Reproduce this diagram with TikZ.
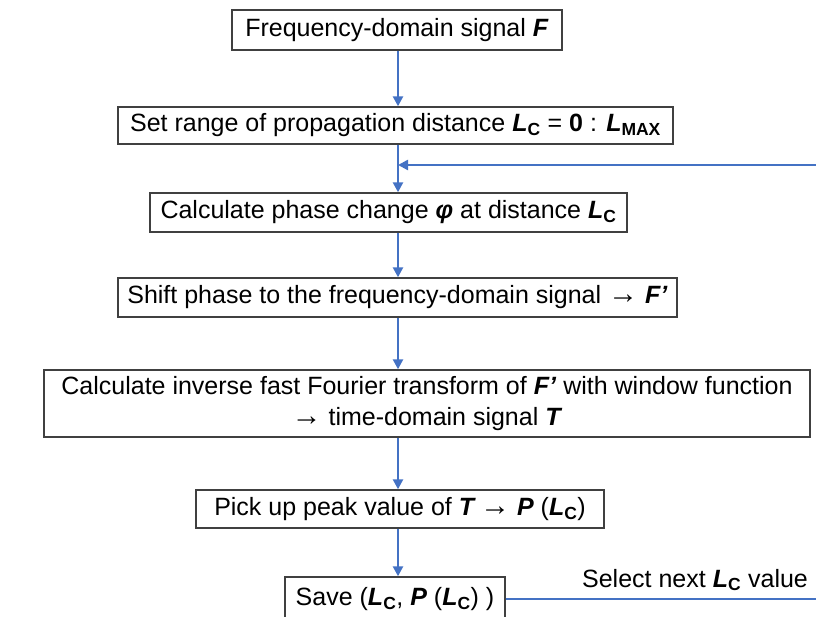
\documentclass[tikz,border=0pt]{standalone}
\usepackage{fontspec}
\setmainfont{Liberation Sans}
\usetikzlibrary{arrows.meta,calc}
\newcommand{\bi}[1]{\textbf{\textit{#1}}}
\newcommand{\sub}[1]{\textsubscript{\textbf{#1}}}
\newcommand{\Lc}{\bi{L}\sub{C}}
\newcommand{\rarr}{{\fontsize{30}{26}\selectfont →}}
\begin{document}
\begin{tikzpicture}[x=1pt,y=-1pt,
  box/.style={draw=black!75,line width=1.4pt,fill=white,align=center,inner sep=0pt,
    font=\fontsize{25}{31}\selectfont},
  arr/.style={draw={rgb,255:red,68;green,114;blue,196},line width=2.4pt,
    -{Triangle[length=10pt,width=10pt]}},
  ln/.style={draw={rgb,255:red,68;green,114;blue,196},line width=2.4pt},
  lbl/.style={font=\fontsize{25}{31}\selectfont,inner sep=0pt}]
\useasboundingbox (0,0) rectangle (816,617);
\coordinate (sp) at (398,0);
\node[box,minimum width=330pt,minimum height=40pt] (b1) at (397,30) {Frequency-domain signal \bi{F}};
\node[box,minimum width=555pt,minimum height=37pt] (b2) at (395.5,125.5) {Set range of propagation distance \Lc{} = \textbf{0} : \bi{L}\sub{MAX}};
\node[box,minimum width=477pt,minimum height=39pt] (b3) at (388.5,212.5) {Calculate phase change \bi{φ} at distance \Lc};
\node[box,minimum width=559pt,minimum height=39pt] (b4) at (397.5,297.5) {Shift phase to the frequency-domain signal \rarr{} \bi{F’}};
\node[box,minimum width=766pt,minimum height=67pt] (b5) at (427,403.5) {Calculate inverse fast Fourier transform of \bi{F’} with window function\\\rarr{} time-domain signal \bi{T}};
\node[box,minimum width=408pt,minimum height=38pt] (b6) at (400,509) {Pick up peak value of \bi{T}\,\rarr{} \bi{P} (\Lc)};
\node[box,minimum width=220pt,minimum height=44pt] (b7) at (395,599) {Save (\Lc, \bi{P} (\Lc) )};
\node[lbl] (sel) at (695,580) {Select next \Lc{} value};
\coordinate (jn) at (398,165);
\coordinate (rt) at (818,165);
\draw[arr] (b1.south -| sp) -- (b2.north -| sp);
\draw[arr] (b2.south -| sp) -- (b3.north -| sp);
\draw[arr] (b3.south -| sp) -- (b4.north -| sp);
\draw[arr] (b4.south -| sp) -- (b5.north -| sp);
\draw[arr] (b5.south -| sp) -- (b6.north -| sp);
\draw[arr] (b6.south -| sp) -- (b7.north -| sp);
\draw[ln] (b7.east) -- (b7.east -| rt) -- (rt);
\draw[arr] (rt) -- (jn);
\end{tikzpicture}
\end{document}
